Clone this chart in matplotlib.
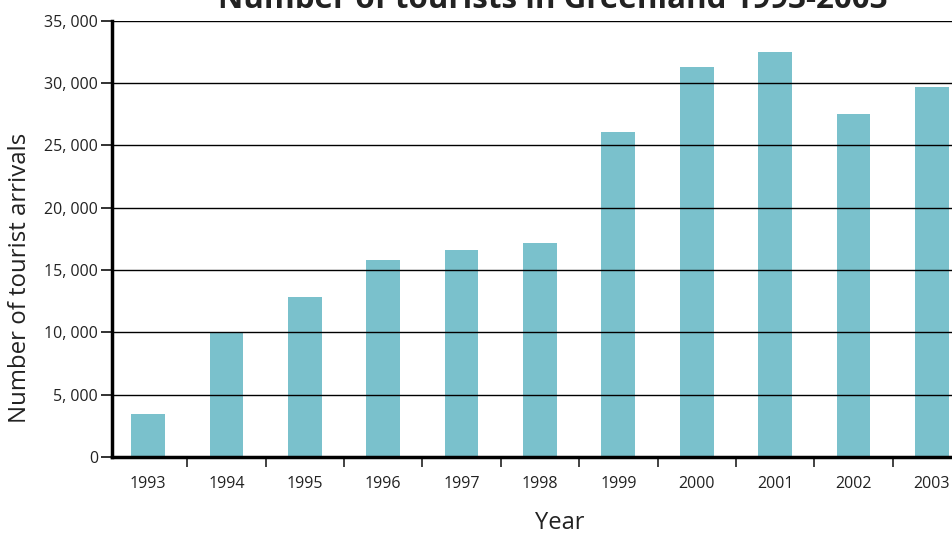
import matplotlib
matplotlib.use('Agg')
import matplotlib.pyplot as plt
from matplotlib.ticker import FuncFormatter, FixedLocator

years = ['1993', '1994', '1995', '1996', '1997', '1998', '1999', '2000', '2001', '2002', '2003']
arrivals = [3450, 10000, 12850, 15800, 16600, 17200, 26100, 31250, 32500, 27550, 29700]
yticks = [0, 5000, 10000, 15000, 20000, 25000, 30000, 35000]

plt.rcParams['font.family'] = ['Open Sans', 'DejaVu Sans']

fig = plt.figure(figsize=(9.53, 5.33), dpi=100)
ax = fig.add_axes([0.1175, 0.1426, 0.8825, 0.8186])

x = list(range(len(years)))
ax.bar(x, arrivals, width=0.43, color='#7ac1cc', zorder=1)

# grid lines drawn over the bars
ax.set_yticks(yticks)
ax.set_ylim(0, 35000)
for v in yticks[1:]:
    ax.axhline(v, color='black', lw=1.0, zorder=3)

ax.set_xlim(-0.46, 10.27)
ax.yaxis.set_major_formatter(FuncFormatter(lambda v, p: f'{int(v):,}'.replace(',', ', ')))

# year labels centred, ticks between categories
ax.set_xticks(x)
ax.set_xticklabels(years)
ax.tick_params(axis='x', which='major', length=0, pad=14, labelsize=11.5, colors='#222222')
ax.xaxis.set_minor_locator(FixedLocator([i + 0.5 for i in range(len(years) - 1)]))
ax.tick_params(axis='x', which='minor', length=7, width=1.3, color='#333333', direction='out')
ax.tick_params(axis='y', length=8, width=1.3, labelsize=11.5, pad=2, colors='#222222')

for s in ['top', 'right']:
    ax.spines[s].set_visible(False)
ax.spines['left'].set_linewidth(2.5)
ax.spines['bottom'].set_linewidth(2.5)

ax.set_ylabel('Number of tourist arrivals', fontsize=17.3, color='#222222', va='center')
ax.yaxis.set_label_coords(-0.109, 0.41)
ax.set_xlabel('Year', fontsize=17, color='#222222', va='center')
ax.xaxis.set_label_coords(0.533, -0.151)

fig.text(0.58, 1.0, 'Number of tourists in Greenland 1993-2003', ha='center', va='center',
         fontsize=22.5, fontweight='bold', color='#222222')

plt.savefig('out.png', dpi=100)
